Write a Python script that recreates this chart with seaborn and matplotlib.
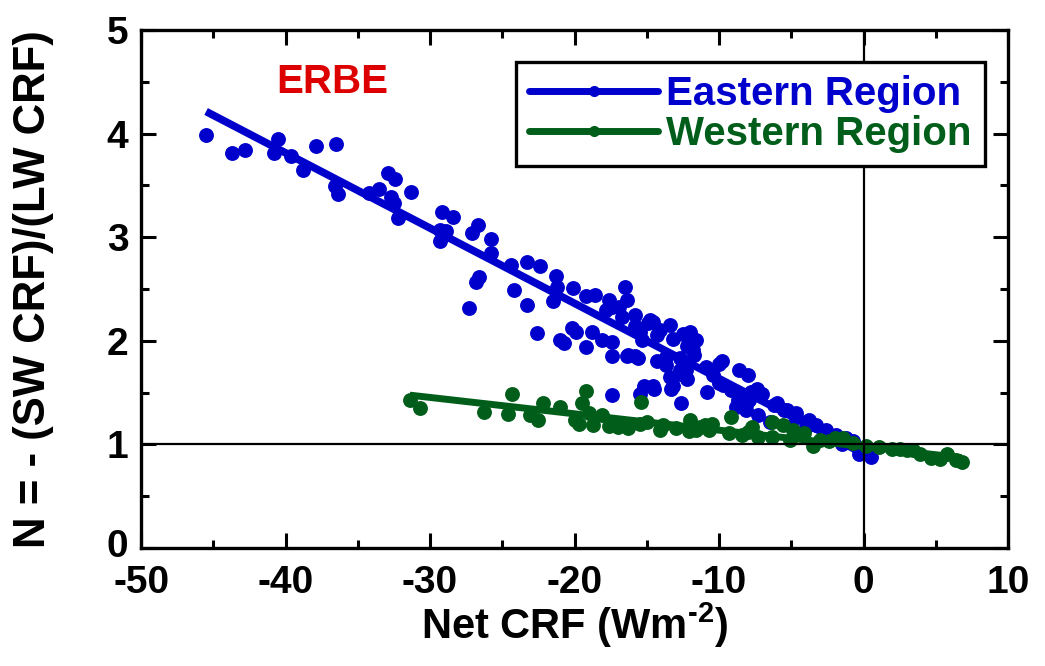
import numpy as np
import pandas as pd
import matplotlib
matplotlib.use("Agg")
import matplotlib.pyplot as plt
import matplotlib.transforms as mtransforms
from matplotlib.lines import Line2D
from matplotlib.ticker import MultipleLocator
import seaborn as sns

# Eastern region: net cloud radiative forcing vs. N
east_x = [-45.5, -43.7, -42.8, -40.5, -40.8, -39.6, -38.8, -37.9, -36.5, -36.6,
          -36.4, -34.2, -33.5, -32.9, -32.4, -32.7, -32.5, -31.3, -32.2, -29.2,
          -28.4, -29.3, -28.9, -29.3, -27.1, -26.7, -25.8, -25.8, -26.6, -26.8,
          -27.3, -24.4, -23.3, -22.4, -24.2, -23.3, -22.6, -21.3, -21.2, -21.5,
          -20.1, -19.2, -18.6, -20.2, -19.9, -21.0, -20.7, -19.2, -16.5, -16.4,
          -17.6, -17.8, -17.4, -18.8, -18.1, -17.4, -16.9, -16.7, -17.4, -16.4,
          -15.8, -15.8, -15.5, -14.9, -14.6, -14.1, -13.4, -13.2, -12.5, -12.0,
          -12.2, -11.8, -14.3, -13.7, -13.4, -12.7, -12.2, -14.6, -15.2, -15.5,
          -17.4, -13.2, -12.6, -15.8, -14.8, -15.3, -14.3, -11.6, -16.3, -15.6,
          -13.7, -12.7, -11.7, -12.7, -10.9, -9.8, -10.4, -8.6, -8.0, -13.3,
          -14.5, -10.8, -10.0, -9.2, -8.6, -7.4, -7.0, -7.9, -6.0, -5.3,
          -4.7, -8.8, -8.1, -12.3, -10.0, -9.7, -8.7, -7.8, -8.1, -7.3,
          -6.2, -5.5, -4.7, -3.8, -3.3, -2.6, -1.9, -1.2, -0.7, -0.3,
          0.5, -6.5, -5.0, -4.0, -1.5]
east_n = [3.99, 3.81, 3.84, 3.95, 3.81, 3.78, 3.65, 3.88, 3.90, 3.49,
          3.42, 3.43, 3.47, 3.62, 3.56, 3.39, 3.33, 3.44, 3.19, 3.24,
          3.20, 3.07, 3.06, 2.96, 3.04, 3.12, 2.98, 2.85, 2.62, 2.57,
          2.32, 2.73, 2.76, 2.72, 2.49, 2.35, 2.08, 2.63, 2.52, 2.38,
          2.51, 2.43, 2.44, 2.12, 2.09, 2.01, 1.98, 1.94, 2.52, 2.39,
          2.39, 2.30, 2.33, 2.09, 2.01, 1.99, 2.33, 2.23, 1.85, 1.85,
          1.85, 2.14, 2.09, 2.17, 2.18, 2.10, 2.15, 2.02, 2.07, 2.09,
          1.95, 1.91, 1.81, 1.77, 1.65, 1.68, 1.63, 1.56, 1.56, 1.49,
          1.48, 1.56, 1.40, 2.25, 2.20, 2.01, 2.06, 2.01, 1.86, 1.83,
          1.84, 1.83, 1.86, 1.72, 1.75, 1.81, 1.67, 1.72, 1.67, 1.54,
          1.54, 1.51, 1.59, 1.53, 1.48, 1.54, 1.49, 1.43, 1.40, 1.33,
          1.27, 1.36, 1.33, 1.72, 1.78, 1.57, 1.43, 1.51, 1.38, 1.28,
          1.38, 1.33, 1.30, 1.24, 1.19, 1.14, 1.09, 1.06, 1.03, 0.91,
          0.88, 1.22, 1.18, 1.17, 1.00]

# Western region
west_x = [-31.4, -30.7, -26.3, -24.6, -24.3, -23.1, -22.5, -22.2, -21.0, -20.0,
          -19.5, -19.2, -19.7, -19.0, -18.7, -18.1, -17.6, -15.4, -15.5, -15.0,
          -13.9, -13.0, -12.0, -11.6, -11.0, -14.1, -12.1, -11.3, -10.5, -10.7,
          -9.2, -9.3, -8.4, -7.3, -6.3, -5.6, -6.3, -4.9, -4.1, -5.1,
          -3.5, -3.0, -2.4, -1.4, -0.7, 0.2, 1.1, 2.0, 2.5, 3.0,
          3.4, 3.9, 4.7, 5.3, 5.8, 6.4, 6.8, -17.0, -16.3, -8.0,
          -7.7, -2.0]
west_n = [1.43, 1.35, 1.31, 1.29, 1.49, 1.28, 1.24, 1.40, 1.36, 1.24,
          1.40, 1.52, 1.20, 1.30, 1.19, 1.28, 1.18, 1.41, 1.20, 1.22,
          1.19, 1.16, 1.24, 1.14, 1.19, 1.14, 1.13, 1.17, 1.20, 1.14,
          1.27, 1.11, 1.09, 1.07, 1.22, 1.19, 1.07, 1.14, 1.11, 1.04,
          0.99, 1.04, 1.03, 1.06, 1.01, 0.99, 0.98, 0.96, 0.96, 0.95,
          0.95, 0.91, 0.87, 0.86, 0.91, 0.85, 0.83, 1.17, 1.16, 1.12,
          1.17, 1.06]

# Linear fits (slope, intercept)
east_fit = (-0.0726, 0.91)
west_fit = (-0.0158, 0.98)

series_names = ["Eastern Region", "Western Region"]
series_colors = ["#0000CC", "#005E1A"]
x_ticks = [-50, -40, -30, -20, -10, 0, 10]
y_ticks = [0, 1, 2, 3, 4, 5]

sns.set_theme(style="ticks")
plt.rcParams["font.family"] = ["Liberation Sans", "DejaVu Sans"]
plt.rcParams["font.weight"] = "bold"
plt.rcParams["axes.labelweight"] = "bold"
plt.rcParams["axes.unicode_minus"] = False
plt.rcParams["text.color"] = "black"
plt.rcParams["axes.labelcolor"] = "black"
plt.rcParams["xtick.color"] = "black"
plt.rcParams["ytick.color"] = "black"
plt.rcParams["mathtext.fontset"] = "custom"
plt.rcParams["mathtext.rm"] = "Liberation Sans:bold"
plt.rcParams["mathtext.bf"] = "Liberation Sans:bold"

fig = plt.figure(figsize=(10.45, 6.66), dpi=100)
ax = fig.add_axes([0.135, 0.177, 0.8296, 0.778])

east = pd.DataFrame({"x": east_x, "n": east_n})
west = pd.DataFrame({"x": west_x, "n": west_n})


def fit_frame(df, fit):
    xs = np.array([df["x"].min(), df["x"].max()])
    return pd.DataFrame({"x": xs, "n": fit[0] * xs + fit[1]})


sns.scatterplot(data=east, x="x", y="n", color=series_colors[0], s=115,
                linewidth=0, ax=ax, zorder=2)
sns.lineplot(data=fit_frame(east, east_fit), x="x", y="n",
             color=series_colors[0], lw=5.5, ax=ax, zorder=3,
             solid_capstyle="butt")
sns.scatterplot(data=west, x="x", y="n", color=series_colors[1], s=115,
                linewidth=0, ax=ax, zorder=4)
sns.lineplot(data=fit_frame(west, west_fit), x="x", y="n",
             color=series_colors[1], lw=5, ax=ax, zorder=5,
             solid_capstyle="butt")

# reference lines N = 1 and Net CRF = 0
ax.axhline(1, color="black", lw=1.6, zorder=6)
ax.axvline(0, color="black", lw=1.6, zorder=6)

ax.set_xlim(-50, 10)
ax.set_ylim(0, 5)
ax.set_xticks(x_ticks)
ax.set_yticks(y_ticks)
ax.xaxis.set_minor_locator(MultipleLocator(5))
ax.yaxis.set_minor_locator(MultipleLocator(0.5))
ax.set_xticklabels([str(v) for v in x_ticks])
ax.set_yticklabels([str(v) for v in y_ticks])

ax.tick_params(which="both", direction="in", top=True, right=True,
               width=2.2, labelsize=28, color="black", labelcolor="black")
ax.tick_params(which="major", length=11)
ax.tick_params(which="minor", length=6)
ax.tick_params(axis="x", which="major", pad=12)
ax.tick_params(axis="y", which="major", pad=9)
for lab in ax.get_xticklabels() + ax.get_yticklabels():
    lab.set_fontweight("bold")

# nudge the lowest y label up so it clears the corner x label
zero_lab = ax.get_yticklabels()[0]
zero_lab.set_transform(zero_lab.get_transform()
                       + mtransforms.ScaledTranslation(0, 5 / 100,
                                                       fig.dpi_scale_trans))

for sp in ax.spines.values():
    sp.set_linewidth(2.4)
    sp.set_color("black")
    sp.set_visible(True)

ax.set_xlabel("Net CRF (Wm$^{\\text{-2}}$)", fontsize=30, fontweight="bold",
              labelpad=0)
ax.set_ylabel("N = - (SW CRF)/(LW CRF)", fontsize=31.5, fontweight="bold",
              labelpad=38)

ax.text(0.221, 0.90, "ERBE", transform=ax.transAxes, color="#DD0000",
        fontsize=29, fontweight="bold", ha="center", va="center")

handles = [Line2D([], [], color=c, lw=5, marker="o", markersize=7)
           for c in series_colors]
leg = ax.legend(handles, series_names, loc="upper right",
                bbox_to_anchor=(0.973, 0.938), borderaxespad=0,
                prop={"size": 29, "weight": "bold"}, frameon=True,
                fancybox=False, framealpha=1, edgecolor="black",
                handlelength=3.2, handletextpad=0.2, labelspacing=0.05,
                borderpad=0.32)
leg.get_frame().set_linewidth(2.4)
for txt, c in zip(leg.get_texts(), series_colors):
    txt.set_color(c)
leg.set_zorder(10)

fig.savefig("out.png", dpi=100)
